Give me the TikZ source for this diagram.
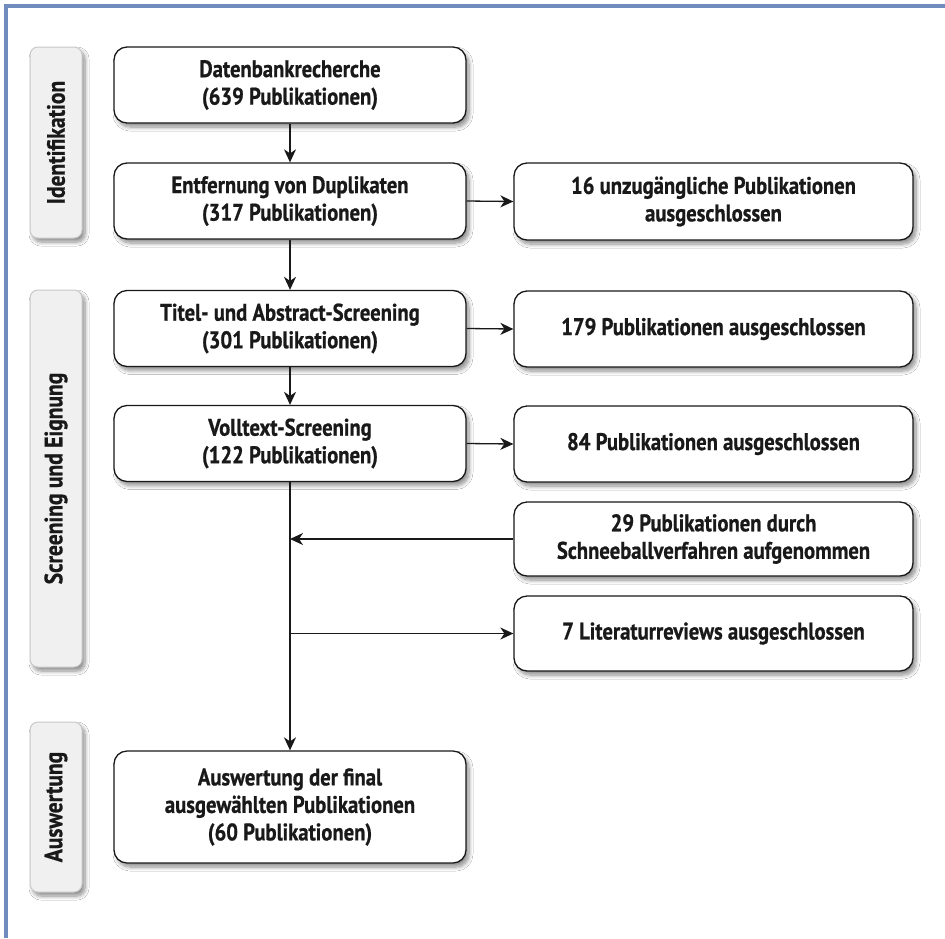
\documentclass[tikz,border=0pt]{standalone}
\usepackage{fontspec}
\setmainfont{PT Sans}[FakeStretch=0.86, BoldFeatures={FakeBold=0.8}]
\usetikzlibrary{arrows.meta,shadows.blur,calc}
\definecolor{frame}{RGB}{112,140,190}
\definecolor{labfill}{RGB}{240,240,240}
\definecolor{labdraw}{RGB}{200,200,200}
\definecolor{ink}{RGB}{25,25,25}
\tikzset{
  shd/.style={blur shadow={shadow xshift=3pt, shadow yshift=-4pt, shadow blur steps=8, shadow blur radius=4pt, shadow opacity=45}},
  procbox/.style={draw=ink, line width=1.3pt, fill=white, rounded corners=13pt, align=center,
     font=\bfseries\fontsize{24}{27.5}\selectfont, text=ink, inner sep=0pt, shd},
  phase/.style={draw=labdraw, line width=1pt, fill=labfill, rounded corners=8pt, rotate=90,
     font=\bfseries\fontsize{25}{28}\selectfont, text=ink, inner sep=0pt, shd},
  conn/.style={draw=ink, line width=1.3pt, -{Stealth[length=13pt, width=12pt, inset=4pt]}},
}
\begin{document}
\begin{tikzpicture}[x=1pt,y=-1pt]
\useasboundingbox (0,0) rectangle (945,938);
\fill[white] (0,0) rectangle (945,938);
\draw[frame, line width=3.5pt] (6,938) -- (6,6) -- (945,6);

% phase labels
\node[phase, minimum width=191pt, minimum height=52pt] (L1) at (56,142.5) {Identifikation};
\node[phase, minimum width=377pt, minimum height=52pt] (L2) at (56,478.5) {Screening und Eignung};
\node[phase, minimum width=170pt, minimum height=52pt] (L3) at (56,807) {Auswertung};

% main column
\node[procbox, minimum width=352pt, minimum height=76pt] (d) at (290,85) {Datenbankrecherche\\(639 Publikationen)};
\node[procbox, minimum width=352pt, minimum height=76pt] (e) at (290,201) {Entfernung von Duplikaten\\(317 Publikationen)};
\node[procbox, minimum width=352pt, minimum height=76pt] (t) at (290,328.5) {Titel- und Abstract-Screening\\(301 Publikationen)};
\node[procbox, minimum width=352pt, minimum height=76pt] (v) at (290,443.5) {Volltext-Screening\\(122 Publikationen)};
\node[procbox, minimum width=352pt, minimum height=112pt] (a) at (290,807) {Auswertung der final\\ausgewählten Publikationen\\(60 Publikationen)};

% right column
\node[procbox, minimum width=399pt, minimum height=77pt] (r1) at (713.5,201.5) {16 unzugängliche Publikationen\\ausgeschlossen};
\node[procbox, minimum width=399pt, minimum height=76pt] (r2) at (713.5,329) {179 Publikationen ausgeschlossen};
\node[procbox, minimum width=399pt, minimum height=76pt] (r3) at (713.5,444) {84 Publikationen ausgeschlossen};
\node[procbox, minimum width=399pt, minimum height=74pt] (r4) at (713.5,539) {29 Publikationen durch\\Schneeballverfahren aufgenommen};
\node[procbox, minimum width=399pt, minimum height=75pt] (r5) at (713.5,633.5) {7 Literaturreviews ausgeschlossen};

\coordinate (j4) at (v.south |- r4.west);
\coordinate (j5) at (v.south |- r5.west);

% connectors
\draw[conn] (d.south) -- (e.north);
\draw[conn] (e.south) -- (t.north);
\draw[conn] (t.south) -- (v.north);
\draw[conn] (v.south) -- (a.north);
\draw[conn] (e.east) -- (r1.west);
\draw[conn] (t.east) -- (r2.west);
\draw[conn] (v.east) -- (r3.west);
\draw[conn] (r4.west) -- (j4);
\draw[conn] (j5) -- (r5.west);
\end{tikzpicture}
\end{document}
